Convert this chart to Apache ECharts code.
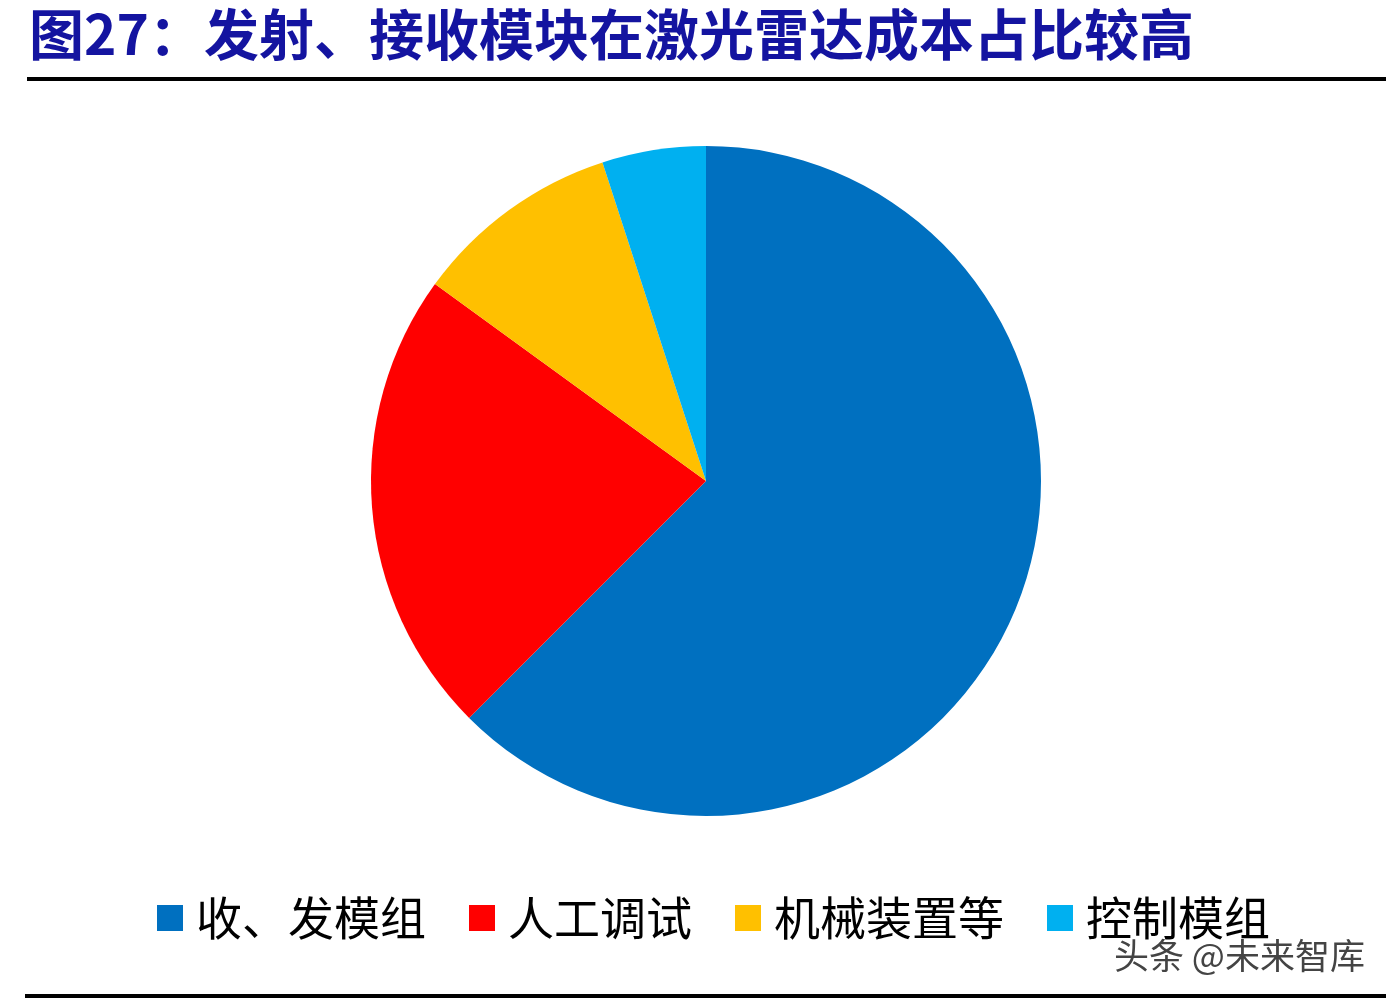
<!DOCTYPE html>
<html>
<head>
<meta charset="utf-8">
<script src="https://cdn.jsdelivr.net/npm/echarts@6/dist/echarts.min.js"></script>
<style>
html,body{margin:0;padding:0;background:#fff;}
#chart{width:1398px;height:1004px;}
</style>
</head>
<body>
<div id="chart"></div>
<script>
var titleText = '图27：发射、接收模块在激光雷达成本占比较高';
var categories = ['收、发模组', '人工调试', '机械装置等', '控制模组'];
var values = [62.5, 22.5, 10, 5];
var colors = ['#0070C0', '#FF0000', '#FFC000', '#00B0F0'];
var watermark = '头条 @未来智库';

var chart = echarts.init(document.getElementById('chart'));
chart.setOption({
  backgroundColor: '#ffffff',
  animation: false,
  title: {
    text: titleText,
    left: 24,
    top: 2,
    textStyle: {
      fontFamily: '"Noto Sans CJK SC", sans-serif',
      fontWeight: 'bold',
      fontSize: 55,
      color: '#1414A0'
    }
  },
  legend: {
    data: categories,
    left: 152,
    top: 890,
    orient: 'horizontal',
    icon: 'rect',
    itemWidth: 26,
    itemHeight: 26,
    itemGap: 43,
    selectedMode: false,
    textStyle: {
      fontFamily: '"Noto Sans CJK SC", serif',
      fontSize: 46,
      lineHeight: 46,
      color: '#000',
      padding: [0, 0, 0, 8]
    }
  },
  graphic: [
    { type: 'rect', shape: { x: 27, y: 77, width: 1359, height: 4 }, style: { fill: '#000' } },
    { type: 'rect', shape: { x: 25, y: 994, width: 1361, height: 4 }, style: { fill: '#000' } },
    { type: 'text', left: 1113, top: 937, style: {
        text: watermark, fontSize: 35, fill: '#444',
        fontFamily: '"Noto Sans CJK SC", sans-serif',
        stroke: '#fff', lineWidth: 2 } }
  ],
  series: [{
    type: 'pie',
    center: [706, 481],
    radius: 335,
    startAngle: 90,
    clockwise: true,
    label: { show: false },
    labelLine: { show: false },
    emphasis: { disabled: true },
    itemStyle: { borderWidth: 0 },
    data: categories.map(function (c, i) {
      return { name: c, value: values[i], itemStyle: { color: colors[i] } };
    })
  }]
});
</script>
</body>
</html>
